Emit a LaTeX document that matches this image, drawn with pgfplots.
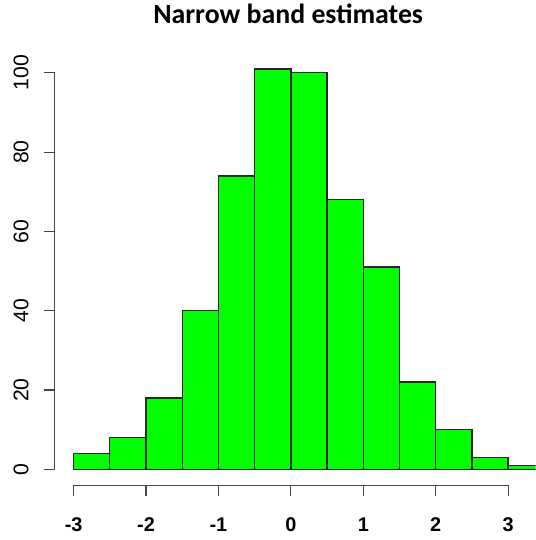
\documentclass[border=0pt]{standalone}
\usepackage{pgfplots}
\pgfplotsset{compat=1.18}
\usepackage{fontspec}
\setmainfont{Liberation Sans}
\newfontfamily\titlefont{Carlito}
\definecolor{rgreen}{RGB}{0,255,0}
\definecolor{axgray}{RGB}{70,70,70}
\begin{document}
\begin{tikzpicture}
\begin{axis}[
  scale only axis,
  width=404.25pt, height=405pt,
  xmin=-4.015, xmax=3.379,
  ymin=-17.8, ymax=117.5,
  axis line style={draw=none},
  major tick length=0pt,
  xtick={-3,-2,-1,0,1,2,3},
  ytick={0,20,40,60,80,100},
  /pgf/number format/assume math mode=true,
  xticklabel style={anchor=center, yshift=11.5pt, font=\fontsize{15}{15}\selectfont\bfseries},
  yticklabel style={xshift=15.75pt, rotate=90, anchor=center, font=\fontsize{16}{16}\selectfont},
  title={\titlefont\bfseries Narrow band estimates},
  title style={at={(rel axis cs:0.538,0.965)}, anchor=center, font=\fontsize{21}{21}\selectfont},
]
\addplot[ybar interval, fill=rgreen, draw=black!85, line width=1pt] coordinates {
  (-3,4) (-2.5,8) (-2,18) (-1.5,40) (-1,74) (-0.5,101) (0,100)
  (0.5,68) (1,51) (1.5,22) (2,10) (2.5,3) (3,1) (3.5,1)
};
% R-style axes
\draw[axgray, line width=0.9pt] (axis cs:-3.26,0) -- (axis cs:-3.26,100);
\draw[axgray, line width=0.9pt] (axis cs:-3.26,0) -- (axis cs:-3.411,0);
\draw[axgray, line width=0.9pt] (axis cs:-3.26,20) -- (axis cs:-3.411,20);
\draw[axgray, line width=0.9pt] (axis cs:-3.26,40) -- (axis cs:-3.411,40);
\draw[axgray, line width=0.9pt] (axis cs:-3.26,60) -- (axis cs:-3.411,60);
\draw[axgray, line width=0.9pt] (axis cs:-3.26,80) -- (axis cs:-3.411,80);
\draw[axgray, line width=0.9pt] (axis cs:-3.26,100) -- (axis cs:-3.411,100);
\draw[axgray, line width=0.9pt] (axis cs:-3,-4.01) -- (axis cs:3,-4.01);
\draw[axgray, line width=0.9pt] (axis cs:-3,-4.01) -- (axis cs:-3,-6.77);
\draw[axgray, line width=0.9pt] (axis cs:-2,-4.01) -- (axis cs:-2,-6.77);
\draw[axgray, line width=0.9pt] (axis cs:-1,-4.01) -- (axis cs:-1,-6.77);
\draw[axgray, line width=0.9pt] (axis cs:0,-4.01) -- (axis cs:0,-6.77);
\draw[axgray, line width=0.9pt] (axis cs:1,-4.01) -- (axis cs:1,-6.77);
\draw[axgray, line width=0.9pt] (axis cs:2,-4.01) -- (axis cs:2,-6.77);
\draw[axgray, line width=0.9pt] (axis cs:3,-4.01) -- (axis cs:3,-6.77);
\end{axis}
\end{tikzpicture}
\end{document}
